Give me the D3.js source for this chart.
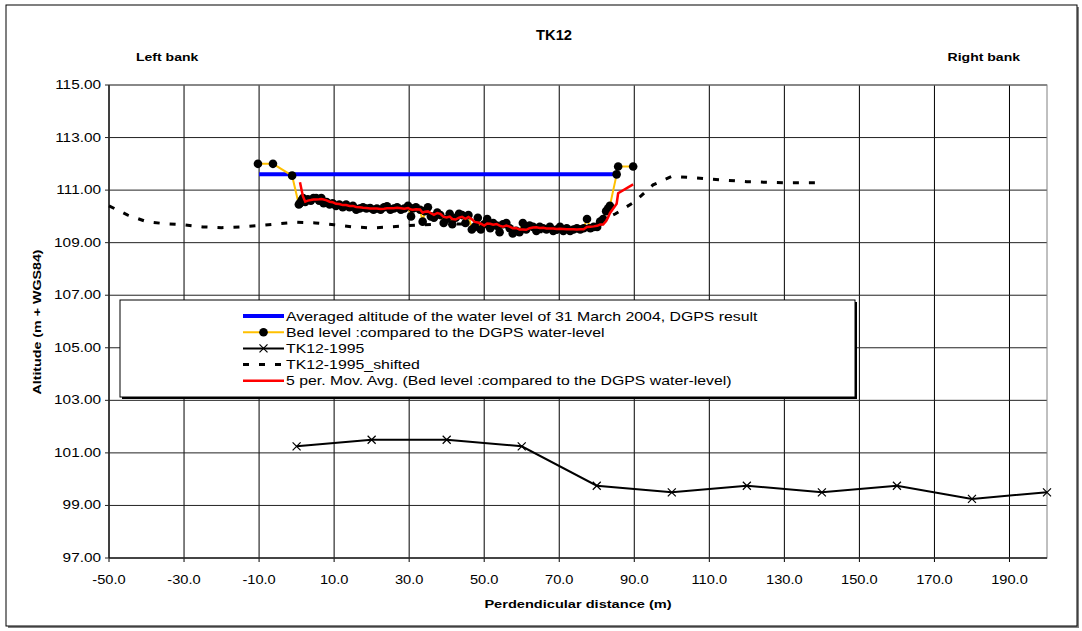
<!DOCTYPE html>
<html>
<head>
<meta charset="utf-8">
<script src="https://cdn.jsdelivr.net/npm/d3@7"></script>
<style>
  body { margin: 0; background: #fff; }
  text { font-family: Arial, "Liberation Sans", sans-serif; }
</style>
</head>
<body>
<svg id="chart" width="1082" height="631"></svg>
<script>
// Water level (DGPS, 31 March 2004)
const waterX = [-10, 85.4];
const waterY = [111.6, 111.6];

// Bed level compared to the DGPS water-level
const bedX = [-10.3, -6.3, -1.2, 0.6, 0.9, 1.3, 1.7, 2.3, 3.0, 3.8, 4.5, 5.2, 6.0, 6.6, 7.2, 8.0,
  8.8, 9.6, 10.5, 11.4, 12.3, 13.2, 14.1, 15.0, 15.9, 16.8, 17.7, 18.6, 19.6, 20.5, 21.4, 22.4,
  23.3, 24.1, 25.0, 25.9, 26.8, 27.8, 28.7, 29.7, 30.5, 31.0, 31.8, 32.9, 33.6, 34.2, 35.0, 35.8,
  36.6, 37.5, 38.3, 39.2, 40.0, 40.8, 41.5, 42.4, 43.3, 44.1, 45.0, 45.8, 46.7, 47.5, 48.3, 49.1,
  50.0, 50.8, 51.6, 52.4, 53.3, 54.1, 55.0, 55.9, 56.8, 57.6, 58.5, 59.4, 60.3, 61.2, 62.1, 63.0,
  63.9, 64.8, 65.7, 66.6, 67.5, 68.4, 69.3, 70.2, 71.1, 72.0, 72.9, 73.8, 74.7, 75.6, 76.5, 77.4,
  78.3, 79.2, 80.1, 80.9, 81.7, 82.5, 83.0, 83.5, 85.3, 85.7, 89.7];
const bedY = [112.0, 112.0, 111.55, 110.45, 110.5, 110.6, 110.7, 110.55, 110.65, 110.6, 110.7, 110.7, 110.6, 110.7, 110.5, 110.55,
  110.45, 110.5, 110.4, 110.45, 110.35, 110.45, 110.35, 110.4, 110.25, 110.3, 110.35, 110.3, 110.32, 110.25, 110.3, 110.25,
  110.35, 110.38, 110.25, 110.3, 110.35, 110.25, 110.3, 110.4, 110.0, 110.3, 110.35, 110.25, 109.8, 110.2, 110.35, 110.0,
  109.95, 110.15, 110.05, 109.75, 109.9, 110.1, 109.7, 109.95, 110.1, 110.05, 109.75, 110.05, 109.5, 109.6, 109.95, 109.5,
  109.7, 109.9, 109.55, 109.75, 109.65, 109.4, 109.7, 109.75, 109.55, 109.35, 109.45, 109.4, 109.75, 109.5, 109.65, 109.6,
  109.45, 109.6, 109.55, 109.5, 109.6, 109.45, 109.5, 109.6, 109.45, 109.55, 109.45, 109.5, 109.55, 109.5, 109.55, 109.9,
  109.55, 109.6, 109.6, 109.8, 109.9, 110.2, 110.3, 110.4, 111.6, 111.9, 111.9];

// TK12-1995
const tk95X = [0, 20, 40, 60, 80, 100, 120, 140, 160, 180, 200];
const tk95Y = [101.25, 101.5, 101.5, 101.25, 99.75, 99.5, 99.75, 99.5, 99.75, 99.25, 99.5];

// TK12-1995_shifted
const shiftX = [-50, -45, -40, -35, -30, -25, -20, -15, -10, -5, 0, 5, 10, 15, 20, 25, 30, 40, 50, 60,
  65, 70, 75, 80, 85, 90, 95, 100, 105, 110, 120, 130, 140];
const shiftY = [110.4, 110.05, 109.8, 109.72, 109.68, 109.6, 109.57, 109.6, 109.65, 109.72, 109.78, 109.75, 109.68, 109.6, 109.56, 109.6, 109.65, 109.72, 109.7, 109.55,
  109.42, 109.4, 109.5, 109.75, 110.1, 110.55, 111.2, 111.52, 111.48, 111.42, 111.32, 111.28, 111.28];

const xTicks = d3.range(-50, 200, 20);
const yTicks = d3.range(97, 115.01, 2);

const legendLabels = [
  'Averaged altitude of the water level of 31 March 2004, DGPS result',
  'Bed level :compared to the DGPS water-level',
  'TK12-1995',
  'TK12-1995_shifted',
  '5 per. Mov. Avg. (Bed level :compared to the DGPS water-level)'
];

// 5 period moving average trendline of the bed level (as Excel draws it)
const avgX = [], avgY = [];
for (let i = 4; i < bedY.length; i++) {
  avgX.push(bedX[i]);
  avgY.push(d3.mean(bedY.slice(i - 4, i + 1)));
}

const svg = d3.select('#chart');
const pLeft = 109, pRight = 1047, pTop = 85, pBottom = 558;

const x = d3.scaleLinear().domain([-50, 200]).range([pLeft, pRight]);
const y = d3.scaleLinear().domain([97, 115]).range([pBottom, pTop]);

// text with the wide Excel look: stretched horizontally
function label(g, tx, ty, str, opts) {
  const o = Object.assign({ size: 12, sx: 1.25, anchor: 'start', bold: false, rot: 0 }, opts);
  return g.append('text')
    .attr('transform', `translate(${tx},${ty}) rotate(${o.rot}) scale(${o.sx},1)`)
    .attr('text-anchor', o.anchor).attr('font-size', o.size)
    .attr('font-weight', o.bold ? 'bold' : 'normal').text(str);
}

// chart area with shadow
svg.append('rect').attr('x', 8).attr('y', 7).attr('width', 1071).attr('height', 621).attr('fill', '#808080');
svg.append('rect').attr('x', 6).attr('y', 5).attr('width', 1071).attr('height', 621)
  .attr('fill', '#fff').attr('stroke', '#000').attr('stroke-width', 1);

// gridlines
svg.append('g').selectAll('line').data(xTicks).enter().append('line')
  .attr('x1', d => x(d)).attr('x2', d => x(d)).attr('y1', pTop).attr('y2', pBottom + 4)
  .attr('stroke', '#000').attr('stroke-width', 1);
svg.append('g').selectAll('line').data(yTicks).enter().append('line')
  .attr('x1', pLeft - 4).attr('x2', pRight).attr('y1', d => y(d)).attr('y2', d => y(d))
  .attr('stroke', '#222').attr('stroke-width', 1);
svg.append('rect').attr('x', pLeft).attr('y', pTop).attr('width', pRight - pLeft).attr('height', pBottom - pTop)
  .attr('fill', 'none').attr('stroke', '#808080').attr('stroke-width', 1);
svg.append('line').attr('x1', pLeft).attr('x2', pRight).attr('y1', pBottom).attr('y2', pBottom).attr('stroke', '#000');
svg.append('line').attr('x1', pLeft).attr('x2', pLeft).attr('y1', pTop).attr('y2', pBottom).attr('stroke', '#000');

// tick labels
const ticksG = svg.append('g');
yTicks.forEach(d => label(ticksG, pLeft - 8, y(d) + 4, d.toFixed(2), { anchor: 'end', sx: 1.28 }));
xTicks.forEach(d => label(ticksG, x(d), 584, d.toFixed(1), { anchor: 'middle', sx: 1.22 }));

// titles
label(svg, 554, 40, 'TK12', { size: 14, bold: true, sx: 1.05, anchor: 'middle' });
label(svg, 136, 61, 'Left bank', { size: 11.5, bold: true, sx: 1.22 });
label(svg, 1020, 61, 'Right bank', { size: 11.5, bold: true, sx: 1.22, anchor: 'end' });
label(svg, 578, 608, 'Perdendicular distance (m)', { size: 11.5, bold: true, sx: 1.27, anchor: 'middle' });
label(svg, 41, 322, 'Altitude (m + WGS84)', { size: 11.5, bold: true, sx: 1.24, anchor: 'middle', rot: -90 });

const line = d3.line().x(d => x(d[0])).y(d => y(d[1]));
const zip = (a, b) => a.map((v, i) => [v, b[i]]);

const plot = svg.append('g');

// water level
plot.append('path').attr('d', line(zip(waterX, waterY)))
  .attr('fill', 'none').attr('stroke', '#0000ff').attr('stroke-width', 4);

// bed level
const bed = zip(bedX, bedY);
plot.append('path').attr('d', line(bed))
  .attr('fill', 'none').attr('stroke', '#ffc000').attr('stroke-width', 2);
plot.append('g').selectAll('circle').data(bed).enter().append('circle')
  .attr('cx', d => x(d[0])).attr('cy', d => y(d[1])).attr('r', 4.3).attr('fill', '#000');

// TK12-1995
const tk95 = zip(tk95X, tk95Y);
plot.append('path').attr('d', line(tk95))
  .attr('fill', 'none').attr('stroke', '#000').attr('stroke-width', 2);
plot.append('g').selectAll('path').data(tk95).enter().append('path')
  .attr('transform', d => `translate(${x(d[0])},${y(d[1])})`)
  .attr('d', 'M-4,-4L4,4M-4,4L4,-4').attr('stroke', '#000').attr('stroke-width', 1.2);

// TK12-1995_shifted
plot.append('path').attr('d', line(zip(shiftX, shiftY)))
  .attr('fill', 'none').attr('stroke', '#000').attr('stroke-width', 3).attr('stroke-dasharray', '6,10');

// moving average
plot.append('path').attr('d', line(zip(avgX, avgY)))
  .attr('fill', 'none').attr('stroke', '#ff0000').attr('stroke-width', 2.5);

// legend
const lg = svg.append('g');
lg.append('rect').attr('x', 122).attr('y', 302).attr('width', 735).attr('height', 97).attr('fill', '#000');
lg.append('rect').attr('x', 120).attr('y', 300).attr('width', 735).attr('height', 97)
  .attr('fill', '#fff').attr('stroke', '#000').attr('stroke-width', 1);
const rowY = i => 316 + i * 16.2;
const sx1 = 243, sx2 = 284;
lg.append('line').attr('x1', sx1).attr('x2', sx2).attr('y1', rowY(0)).attr('y2', rowY(0))
  .attr('stroke', '#0000ff').attr('stroke-width', 4);
lg.append('line').attr('x1', sx1).attr('x2', sx2).attr('y1', rowY(1)).attr('y2', rowY(1))
  .attr('stroke', '#ffc000').attr('stroke-width', 2);
lg.append('circle').attr('cx', (sx1 + sx2) / 2).attr('cy', rowY(1)).attr('r', 4.3).attr('fill', '#000');
lg.append('line').attr('x1', sx1).attr('x2', sx2).attr('y1', rowY(2)).attr('y2', rowY(2))
  .attr('stroke', '#000').attr('stroke-width', 2);
lg.append('path').attr('transform', `translate(${(sx1 + sx2) / 2},${rowY(2)})`)
  .attr('d', 'M-4,-4L4,4M-4,4L4,-4').attr('stroke', '#000').attr('stroke-width', 1.2);
lg.append('line').attr('x1', sx1).attr('x2', sx2).attr('y1', rowY(3)).attr('y2', rowY(3))
  .attr('stroke', '#000').attr('stroke-width', 3).attr('stroke-dasharray', '6,10');
lg.append('line').attr('x1', sx1).attr('x2', sx2).attr('y1', rowY(4)).attr('y2', rowY(4))
  .attr('stroke', '#ff0000').attr('stroke-width', 2.5);
legendLabels.forEach((d, i) => label(lg, 286, rowY(i) + 4.5, d, { size: 12, sx: 1.32 }));
</script>
</body>
</html>
